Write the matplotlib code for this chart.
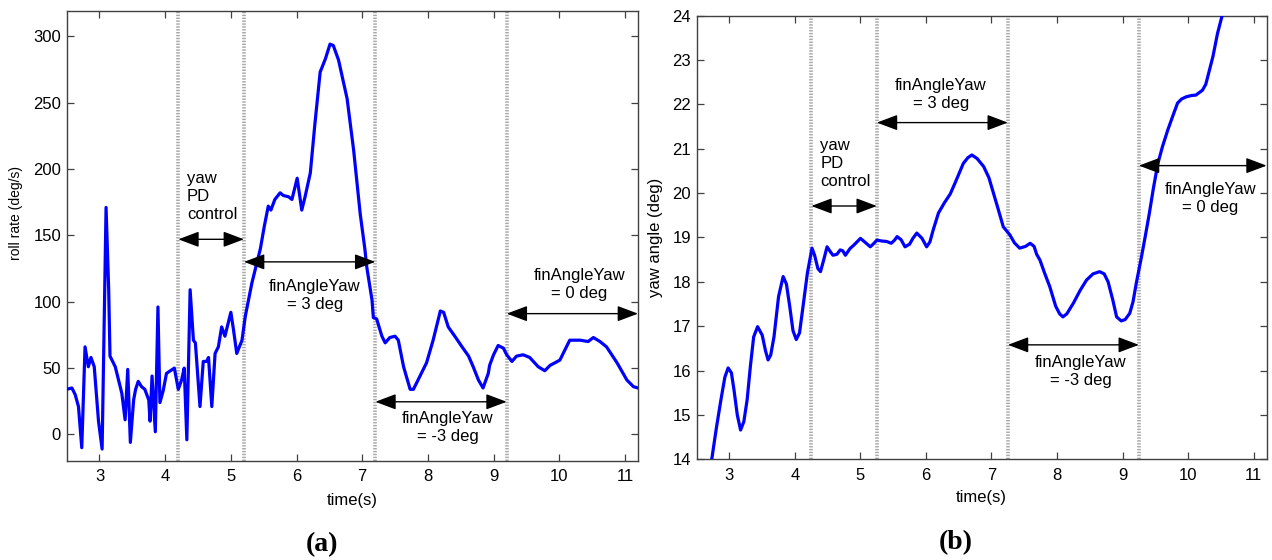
import matplotlib
matplotlib.use("Agg")
import matplotlib.pyplot as plt
from matplotlib import font_manager

# ---------------- data ----------------
roll_t = [2.50, 2.58, 2.63, 2.68, 2.73, 2.78, 2.83, 2.87, 2.92, 2.985, 3.04, 3.10,
          3.14, 3.16, 3.24, 3.29, 3.34, 3.39, 3.43, 3.47, 3.52, 3.55, 3.59, 3.64,
          3.69, 3.75, 3.77, 3.80, 3.85, 3.89, 3.92, 3.97, 4.02, 4.08, 4.14, 4.20,
          4.25, 4.29, 4.33, 4.38, 4.43, 4.46, 4.53, 4.58, 4.63, 4.66, 4.71, 4.76,
          4.81, 4.86, 4.91, 5.00, 5.04, 5.09, 5.17, 5.22, 5.32, 5.45, 5.51, 5.57,
          5.61, 5.67, 5.75, 5.80, 5.88, 5.93, 6.01, 6.08, 6.13, 6.21, 6.28, 6.36,
          6.44, 6.51, 6.56, 6.64, 6.77, 6.87, 6.97, 7.04, 7.07, 7.15, 7.17, 7.22,
          7.30, 7.35, 7.42, 7.50, 7.55, 7.63, 7.73, 7.78, 7.88, 7.98, 8.08, 8.19,
          8.24, 8.31, 8.41, 8.52, 8.62, 8.69, 8.77, 8.84, 8.92, 8.94, 9.00, 9.07,
          9.15, 9.20, 9.28, 9.35, 9.45, 9.55, 9.68, 9.78, 9.86, 10.01, 10.11, 10.16,
          10.32, 10.44, 10.52, 10.62, 10.72, 10.88, 11.03, 11.13, 11.20]
roll_rate = [34, 35, 30, 21, -10, 66, 51, 58, 51, 10, -11, 171,
             109, 59, 51, 41, 31, 11, 49, -6, 26, 34, 40, 36,
             34, 26, 10, 44, 2, 96, 24, 33, 46, 48, 50, 34,
             41, 50, -4, 109, 71, 69, 21, 55, 55, 58, 21, 61,
             66, 81, 74, 92, 79, 61, 71, 89, 114, 140, 157, 172,
             169, 177, 182, 180, 179, 177, 193, 169, 179, 197, 234, 273,
             283, 294, 293, 282, 253, 214, 166, 140, 126, 101, 88, 87,
             74, 69, 73, 74, 71, 51, 34, 34, 44, 54, 71, 93,
             92, 81, 74, 66, 59, 51, 41, 35, 46, 52, 60, 67,
             65, 60, 55, 59, 60, 58, 51, 48, 52, 56, 66, 71,
             71, 70, 73, 70, 66, 54, 41, 36, 35]

yaw_t = [2.72, 2.80, 2.87, 2.93, 2.98, 3.03, 3.07, 3.12, 3.17, 3.22, 3.27, 3.32,
         3.37, 3.43, 3.50, 3.55, 3.59, 3.63, 3.68, 3.75, 3.82, 3.87, 3.92, 3.97,
         4.02, 4.07, 4.13, 4.19, 4.24, 4.26, 4.30, 4.35, 4.39, 4.44, 4.49, 4.54,
         4.58, 4.64, 4.69, 4.73, 4.77, 4.84, 4.90, 5.00, 5.08, 5.15, 5.20, 5.25,
         5.33, 5.40, 5.47, 5.52, 5.56, 5.62, 5.68, 5.75, 5.80, 5.86, 5.94, 6.01,
         6.06, 6.11, 6.19, 6.28, 6.37, 6.45, 6.57, 6.64, 6.70, 6.78, 6.88, 6.96,
         7.03, 7.10, 7.18, 7.28, 7.35, 7.43, 7.52, 7.59, 7.65, 7.69, 7.74, 7.81,
         7.89, 7.98, 8.04, 8.09, 8.15, 8.25, 8.35, 8.45, 8.55, 8.65, 8.72, 8.78,
         8.85, 8.91, 8.98, 9.04, 9.11, 9.16, 9.21, 9.29, 9.35, 9.41, 9.47, 9.54,
         9.61, 9.69, 9.77, 9.84, 9.90, 9.97, 10.05, 10.12, 10.22, 10.27, 10.30, 10.34,
         10.38, 10.45, 10.52, 10.60]
yaw_angle = [13.9, 14.7, 15.34, 15.85, 16.06, 15.95, 15.56, 15.0, 14.66, 14.85, 15.34, 16.1,
             16.76, 16.99, 16.8, 16.45, 16.24, 16.35, 16.76, 17.67, 18.12, 17.95, 17.45, 16.9,
             16.70, 16.85, 17.52, 18.2, 18.6, 18.76, 18.6, 18.3, 18.23, 18.5, 18.79, 18.68,
             18.6, 18.62, 18.72, 18.7, 18.6, 18.75, 18.83, 18.98, 18.88, 18.79, 18.86, 18.94,
             18.92, 18.91, 18.87, 18.94, 19.02, 18.95, 18.79, 18.85, 18.98, 19.10, 18.98, 18.79,
             18.9, 19.17, 19.55, 19.78, 19.98, 20.25, 20.67, 20.8, 20.86, 20.78, 20.6, 20.35,
             20.0, 19.65, 19.24, 19.06, 18.88, 18.76, 18.8, 18.87, 18.8, 18.62, 18.49, 18.2,
             17.89, 17.45, 17.28, 17.21, 17.28, 17.52, 17.8, 18.04, 18.18, 18.23, 18.18, 18.0,
             17.6, 17.21, 17.12, 17.15, 17.29, 17.55, 17.97, 18.57, 19.05, 19.55, 20.1, 20.67,
             21.05, 21.42, 21.75, 22.03, 22.12, 22.17, 22.2, 22.21, 22.32, 22.45, 22.62, 22.85,
             23.08, 23.6, 24.0, 24.5]

# phase boundaries (s)
switch_a = [4.2, 5.2, 7.2, 9.2]
switch_b = [4.25, 5.25, 7.25, 9.25]

xticks = [3, 4, 5, 6, 7, 8, 9, 10, 11]
yticks_a = [0, 50, 100, 150, 200, 250, 300]
yticks_b = [14, 15, 16, 17, 18, 19, 20, 21, 22, 23, 24]

# annotations: (x_start, x_end, arrow_y, text, text_x, text_y, text_align)
ann_a = [
    (4.2, 5.2, 147, "yaw\nPD\ncontrol", 4.33, 179, "left"),
    (5.2, 7.2, 130, "finAngleYaw\n= 3 deg", 6.28, 105, "center"),
    (7.2, 9.2, 24.6, "finAngleYaw\n= -3 deg", 8.30, 5, "center"),
    (9.2, 11.2, 91, "finAngleYaw\n= 0 deg", 10.31, 113, "center"),
]
ann_b = [
    (4.25, 5.25, 19.71, "yaw\nPD\ncontrol", 4.39, 20.66, "left"),
    (5.25, 7.25, 21.59, "finAngleYaw\n= 3 deg", 6.23, 22.23, "center"),
    (7.25, 9.25, 16.58, "finAngleYaw\n= -3 deg", 8.36, 15.97, "center"),
    (9.25, 11.2, 20.62, "finAngleYaw\n= 0 deg", 10.34, 19.87, "center"),
]

# ---------------- drawing ----------------
plt.rcParams['font.family'] = ['Liberation Sans', 'DejaVu Sans']
FS = 12

installed = {f.name for f in font_manager.fontManager.ttflist}
if 'Liberation Sans Narrow' in installed:
    narrow = dict(family='Liberation Sans Narrow', fontsize=12)
else:
    narrow = dict(family='Liberation Sans', fontsize=10)

fig = plt.figure(figsize=(12.72, 5.6), dpi=100)
axA = fig.add_axes([0.0524, 0.1768, 0.4492, 0.8036])
axB = fig.add_axes([0.5477, 0.1798, 0.4481, 0.7922])


def style(ax):
    for s in ax.spines.values():
        s.set_color('#404040')
        s.set_linewidth(1.0)
    ax.tick_params(direction='in', top=True, right=True, length=5,
                   width=0.9, color='#404040', labelsize=FS, pad=4)
    ax.tick_params(axis='x', pad=6)


def annotate(ax, anns):
    for x1, x2, ya, txt, tx, ty, al in anns:
        ax.annotate('', xy=(x2, ya), xytext=(x1, ya),
                    arrowprops=dict(arrowstyle='<|-|>,head_length=0.85,head_width=0.32',
                                    color='k', lw=1.0, shrinkA=0, shrinkB=0,
                                    mutation_scale=15),
                    annotation_clip=False)
        ax.text(tx, ty, txt, ha='center' if al == 'center' else 'left',
                va='center', multialignment=al, fontsize=FS, linespacing=1.25)


# (a)
for xv in switch_a:
    axA.axvline(xv, color='#a8a8a8', lw=2.6, ls=(0, (0.4, 0.4)), zorder=1)
axA.plot(roll_t, roll_rate, color='#0000ff', lw=2.3, zorder=3)
axA.set_xlim(2.5, 11.2)
axA.set_ylim(-20, 319)
axA.set_xticks(xticks)
axA.set_yticks(yticks_a)
axA.set_xlabel('time(s)', fontsize=FS, labelpad=6)
axA.set_ylabel('roll rate (deg/s)', **narrow)
axA.yaxis.set_label_coords(-0.0765, 0.551)
style(axA)
annotate(axA, ann_a)

# (b)
for xv in switch_b:
    axB.axvline(xv, color='#a8a8a8', lw=2.6, ls=(0, (0.4, 0.4)), zorder=1)
axB.plot(yaw_t, yaw_angle, color='#0000ff', lw=2.3, zorder=3)
axB.set_xlim(2.5, 11.2)
axB.set_ylim(14, 24)
axB.set_xticks(xticks)
axB.set_yticks(yticks_b)
axB.set_xlabel('time(s)', fontsize=FS, labelpad=5)
axB.set_ylabel('yaw angle (deg)', fontsize=FS)
axB.yaxis.set_label_coords(-0.0591, 0.5)
style(axB)
annotate(axB, ann_b)

fig.text(322 / 1272, 1 - 545 / 560, '(a)', ha='center', va='center',
         fontsize=20, fontweight='bold', family='Liberation Serif')
fig.text(956 / 1272, 1 - 543 / 560, '(b)', ha='center', va='center',
         fontsize=20, fontweight='bold', family='Liberation Serif')

fig.savefig('out.png', dpi=100)
